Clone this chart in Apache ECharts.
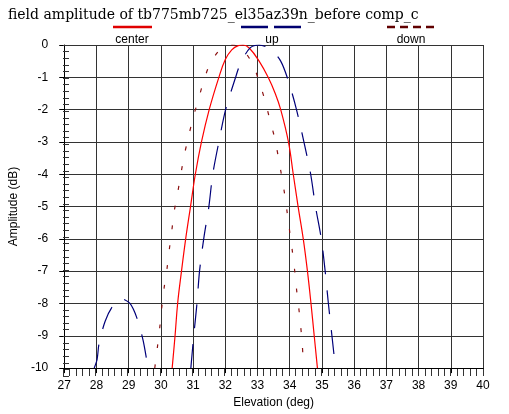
<!DOCTYPE html>
<html>
<head>
<meta charset="utf-8">
<script src="https://cdn.jsdelivr.net/npm/echarts@6/dist/echarts.min.js"></script>
<style>html,body{margin:0;padding:0;background:#fff}#c{width:509px;height:414px}</style>
</head>
<body>
<div id="c"></div>
<script>
const titleText = 'field amplitude of tb775mb725_el35az39n_before comp_c';
const seriesNames = ['center', 'up', 'down'];
const elevRange = [27, 40];
const dbRange = [-10, 0];

const centerElev = [30.35,30.44,30.52,30.64,30.77,30.92,31.07,31.26,31.5,31.8,32.0,32.2,32.4,32.55,32.75,33.05,33.33,33.55,33.72,33.96,34.11,34.26,34.42,34.55,34.66,34.76,34.86];
const centerDb   = [-10,-9,-8,-7,-6,-5,-4,-3,-2,-1,-0.45,-0.15,-0.02,0,-0.1,-0.5,-1,-1.5,-2,-3,-4,-5,-6,-7,-8,-9,-10];

const upElev = [27.93,28.02,28.08,28.27,28.49,28.76,29.04,29.26,29.45,29.6, 30.3, 30.93,31.02,31.12,31.2,31.33,31.49,31.61,31.8,32.01,32.32,32.48,32.77,33.05,33.41,33.72,33.97,34.21,34.44,34.65,34.8,34.98,35.1,35.2,35.31,35.42];
const upDb   = [-10,-9.73,-9.24,-8.55,-8.1,-7.85,-8.0,-8.46,-9.15,-10, null, -10,-9,-8,-7,-6,-5,-4,-3,-2,-1,-0.55,-0.09,0,-0.14,-0.5,-1.15,-2,-3,-4,-5,-6,-7,-8,-9,-10];

const downElev = [29.81,29.9,29.97,30.03,30.1,30.19,30.26,30.34,30.41,30.52,30.62,30.72,30.86,31.0,31.17,31.34,31.55,31.91,32.2,32.48,32.84,33.04,33.23,33.37,33.53,33.64,33.74,33.84,33.92,34.0,34.08,34.15,34.21,34.28,34.34,34.39,34.43];
const downDb   = [-10,-9.29,-8.7,-8.1,-7.52,-6.92,-6.34,-5.74,-5.17,-4.58,-4.0,-3.44,-2.83,-2.25,-1.67,-1.08,-0.54,-0.07,0,-0.07,-0.57,-1.1,-1.71,-2.26,-2.87,-3.43,-4.0,-4.6,-5.18,-5.78,-6.37,-6.95,-7.55,-8.13,-8.71,-9.28,-10];

function zip(xs, ys) { return xs.map((x, i) => [x, ys[i] === null ? '-' : ys[i]]); }

const chart = echarts.init(document.getElementById('c'), null, {renderer: 'canvas'});
const sans = 'Liberation Sans';
const gridBox = {left: 63, right: 26, top: 45, bottom: 38};
const option = {
  animation: false,
  backgroundColor: '#fff',
  title: {
    text: titleText, left: 3, top: 3,
    textStyle: {fontFamily: 'DejaVu Serif', fontSize: 14, fontWeight: 'normal', color: '#000'}
  },
  grid: [Object.assign({}, gridBox), Object.assign({}, gridBox)],
  xAxis: [
    {
      gridIndex: 0, type: 'value', min: elevRange[0], max: elevRange[1], interval: 1, position: 'bottom',
      name: 'Elevation (deg)', nameLocation: 'middle', nameGap: 25,
      nameTextStyle: {fontFamily: sans, fontSize: 12, color: '#000'},
      axisLine: {show: true, onZero: false, lineStyle: {color: '#000', width: 1}},
      axisTick: {show: true, inside: false, length: 5, lineStyle: {color: '#000'}},
      axisLabel: {fontFamily: sans, fontSize: 12, color: '#000', margin: 12},
      splitLine: {show: true, lineStyle: {color: '#333', width: 1}}
    },
    {
      gridIndex: 1, type: 'value', min: elevRange[0], max: elevRange[1], interval: 0.2, position: 'bottom',
      axisLine: {show: false, onZero: false},
      axisTick: {show: true, inside: true, length: 7, lineStyle: {color: '#333'}},
      axisLabel: {show: false}, splitLine: {show: false}
    }
  ],
  yAxis: [
    {
      gridIndex: 0, type: 'value', min: dbRange[0], max: dbRange[1], interval: 1, position: 'left',
      name: 'Amplitude (dB)', nameLocation: 'middle', nameGap: 39, nameRotate: 90,
      nameTextStyle: {fontFamily: sans, fontSize: 12, color: '#000'},
      axisLine: {show: true, onZero: false, lineStyle: {color: '#000', width: 1}},
      axisTick: {show: true, inside: false, length: 5, lineStyle: {color: '#000'}},
      axisLabel: {fontFamily: sans, fontSize: 12, color: '#000', margin: 16},
      splitLine: {show: true, lineStyle: {color: '#333', width: 1}}
    },
    {
      gridIndex: 1, type: 'value', min: dbRange[0], max: dbRange[1], interval: 0.2, position: 'left',
      axisLine: {show: false, onZero: false},
      axisTick: {show: true, inside: true, length: 6, lineStyle: {color: '#333'}},
      axisLabel: {show: false}, splitLine: {show: false}
    }
  ],
  graphic: [
    {type: 'line', shape: {x1: 113, y1: 27, x2: 152, y2: 27}, style: {stroke: '#e00000', lineWidth: 2.5}},
    {type: 'text', style: {text: seriesNames[0], x: 132, y: 40, textAlign: 'center', textVerticalAlign: 'middle', font: '12px "Liberation Sans"', fill: '#000'}},
    {type: 'line', shape: {x1: 241, y1: 27, x2: 303, y2: 27}, style: {stroke: '#000070', lineWidth: 2.5, lineDash: [27, 6]}},
    {type: 'text', style: {text: seriesNames[1], x: 272, y: 40, textAlign: 'center', textVerticalAlign: 'middle', font: '12px "Liberation Sans"', fill: '#000'}},
    {type: 'line', shape: {x1: 387, y1: 27, x2: 435, y2: 27}, style: {stroke: '#600000', lineWidth: 2.5, lineDash: [8, 5]}},
    {type: 'text', style: {text: seriesNames[2], x: 411, y: 40, textAlign: 'center', textVerticalAlign: 'middle', font: '12px "Liberation Sans"', fill: '#000'}}
  ],
  series: [
    {
      name: seriesNames[0], type: 'line', xAxisIndex: 0, yAxisIndex: 0, smooth: 0.4, symbol: 'none', clip: true,
      lineStyle: {color: '#ff0000', width: 1.2}, data: zip(centerElev, centerDb)
    },
    {
      name: seriesNames[1], type: 'line', xAxisIndex: 0, yAxisIndex: 0, smooth: 0.3, symbol: 'none', clip: true, connectNulls: false,
      lineStyle: {color: '#00007a', width: 1.2, type: [24, 16]}, data: zip(upElev, upDb)
    },
    {
      name: seriesNames[2], type: 'line', xAxisIndex: 0, yAxisIndex: 0, smooth: 0.3, symbol: 'none', clip: true,
      lineStyle: {color: '#8b1010', width: 1.2, type: [4, 16]}, data: zip(downElev, downDb)
    }
  ]
};
chart.setOption(option);
</script>
</body>
</html>
